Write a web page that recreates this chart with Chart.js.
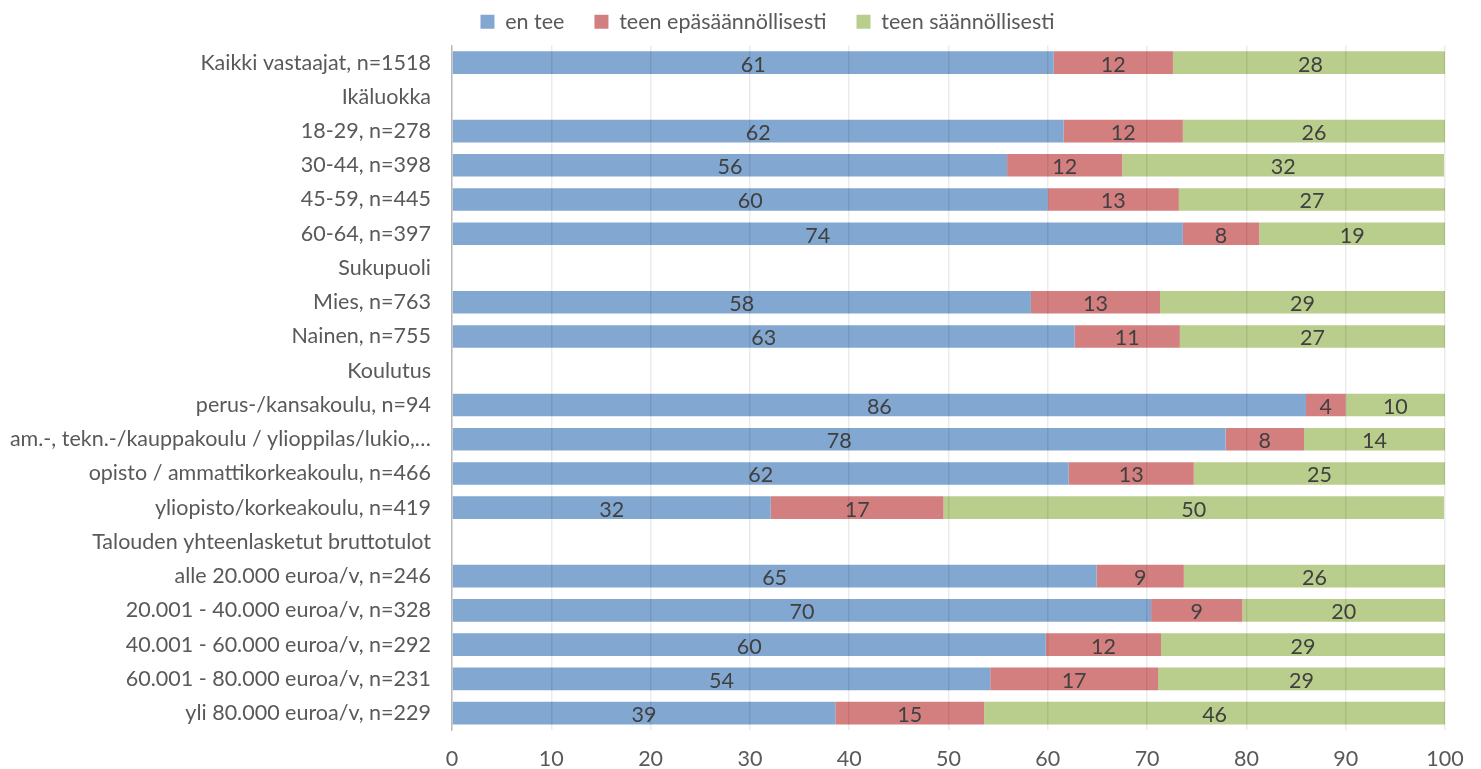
<!DOCTYPE html>
<html>
<head>
<meta charset="utf-8">
<script src="https://cdn.jsdelivr.net/npm/chart.js@4/dist/chart.umd.min.js"></script>
<style>
  html, body { margin: 0; padding: 0; background: #fff; }
  #wrap { width: 1481px; height: 769px; }
</style>
</head>
<body>
<div id="wrap"><canvas id="chart"></canvas></div>
<script>
const categories = [
  "Kaikki vastaajat, n=1518",
  "Ikäluokka",
  "18-29, n=278",
  "30-44, n=398",
  "45-59, n=445",
  "60-64, n=397",
  "Sukupuoli",
  "Mies, n=763",
  "Nainen, n=755",
  "Koulutus",
  "perus-/kansakoulu, n=94",
  "am.-, tekn.-/kauppakoulu / ylioppilas/lukio,…",
  "opisto / ammattikorkeakoulu, n=466",
  "yliopisto/korkeakoulu, n=419",
  "Talouden yhteenlasketut bruttotulot",
  "alle 20.000 euroa/v, n=246",
  "20.001 - 40.000 euroa/v, n=328",
  "40.001 - 60.000 euroa/v, n=292",
  "60.001 - 80.000 euroa/v, n=231",
  "yli 80.000 euroa/v, n=229"
]

const seriesNames = ["en tee", "teen epäsäännöllisesti", "teen säännöllisesti"]

const enTee = [60.6, null, 61.6, 55.9, 60.0, 73.6, null, 58.3, 62.7, null, 86.0, 77.9, 62.1, 32.1, null, 64.9, 70.4, 59.8, 54.2, 38.6]
const epasaannollisesti = [12.0, null, 12.0, 11.6, 13.2, 7.7, null, 13.0, 10.6, null, 4.0, 7.9, 12.6, 17.4, null, 8.8, 9.2, 11.6, 16.9, 15.0]
const saannollisesti = [27.7, null, 26.4, 32.4, 26.8, 18.7, null, 28.7, 26.7, null, 10.0, 14.2, 25.3, 50.4, null, 26.3, 20.4, 28.6, 28.9, 46.4]

const xTicks = [0, 10, 20, 30, 40, 50, 60, 70, 80, 90, 100]

const colors = ["#82A7D1", "#D47F7F", "#B9CE8C"]
const fontFamily = "Lato, 'Open Sans', sans-serif"
const fontSize = 21.5
const textColor = "#595959"

// value labels in the middle of each bar segment
const barLabels = {
  id: "barLabels",
  afterDatasetsDraw(chart) {
    const ctx = chart.ctx
    ctx.save()
    ctx.font = fontSize + "px " + fontFamily
    ctx.fillStyle = "#404040"
    ctx.textAlign = "center"
    ctx.textBaseline = "middle"
    chart.data.datasets.forEach((ds, i) => {
      const meta = chart.getDatasetMeta(i)
      meta.data.forEach((bar, j) => {
        const v = ds.data[j]
        if (v === null || v === undefined) return
        const cx = (bar.x + bar.base) / 2
        ctx.fillText(String(Math.round(v)), cx, bar.y + 2)
      })
    })
    ctx.restore()
  }
}

// legend sits a bit right of and above where chart.js puts it
const moveLegend = {
  id: "moveLegend",
  afterLayout(chart) {
    const lg = chart.legend
    if (!lg) return
    lg.left += 45
    lg.right += 45
    lg.top -= 3
    lg.bottom -= 3
  }
}

new Chart(document.getElementById("chart"), {
  type: "bar",
  data: {
    labels: categories,
    datasets: [
      { label: seriesNames[0], data: enTee, backgroundColor: colors[0] },
      { label: seriesNames[1], data: epasaannollisesti, backgroundColor: colors[1] },
      { label: seriesNames[2], data: saannollisesti, backgroundColor: colors[2] }
    ]
  },
  options: {
    indexAxis: "y",
    responsive: true,
    maintainAspectRatio: false,
    animation: false,
    datasets: {
      bar: { barPercentage: 0.66, categoryPercentage: 1.0, borderWidth: 0 }
    },
    layout: { padding: { top: -16, right: 36, bottom: -19, left: 0 } },
    plugins: {
      legend: {
        position: "top",
        labels: {
          font: { family: fontFamily, size: fontSize },
          color: textColor,
          boxWidth: 14,
          boxHeight: 14,
          padding: 30
        }
      },
      tooltip: { enabled: false }
    },
    scales: {
      x: {
        stacked: true,
        min: 0,
        max: 100,
        afterBuildTicks: scale => { scale.ticks = xTicks.map(v => ({ value: v })) },
        ticks: {
          font: { family: fontFamily, size: fontSize },
          color: textColor,
          padding: 16
        },
        grid: {
          color: "rgba(0,0,0,0.08)",
          lineWidth: 1.5,
          drawTicks: false,
          z: 1
        },
        border: { display: false }
      },
      y: {
        stacked: true,
        afterFit: scale => { scale.width = 452 },
        ticks: {
          font: { family: fontFamily, size: fontSize },
          color: textColor,
          padding: 21,
          autoSkip: false
        },
        grid: { display: false, drawTicks: false },
        border: { display: true, color: "#C8C8C8", width: 1.5 }
      }
    }
  },
  plugins: [barLabels, moveLegend]
})
</script>
</body>
</html>
